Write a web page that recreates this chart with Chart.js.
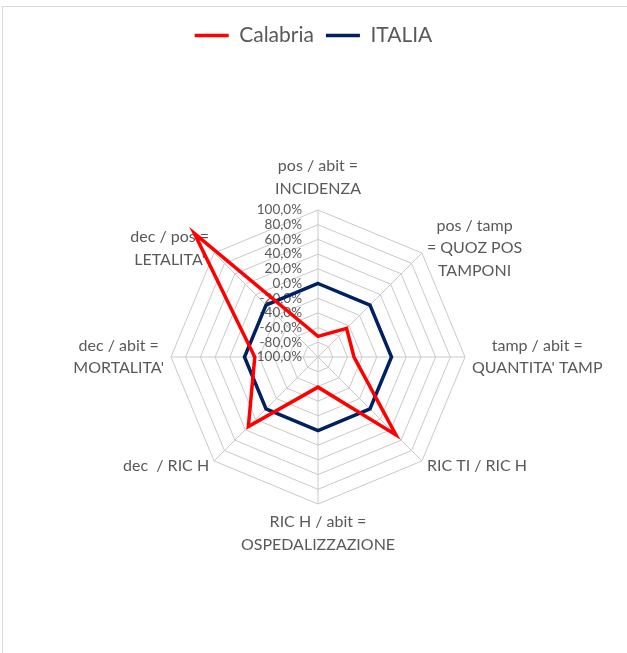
<!DOCTYPE html>
<html>
<head>
<meta charset="utf-8">
<script src="https://cdn.jsdelivr.net/npm/chart.js@4.4.1/dist/chart.umd.min.js"></script>
<style>
    body { margin: 0; background: #fff; overflow: hidden; }
    #wrap { position: relative; width: 627px; height: 653px; }
    #frame { position: absolute; left: 2px; top: 6px; width: 700px; height: 700px; border: 1px solid #d9d9d9; }
    #radar { position: absolute; left: 0; top: 0; }
</style>
</head>
<body>
<div id="wrap">
    <div id="frame"></div>
    <canvas id="radar" width="627" height="653"></canvas>
</div>
<script>
// Chart data
const categories = [
    ['pos / abit =', 'INCIDENZA'],
    ['pos / tamp', '= QUOZ POS', 'TAMPONI'],
    ['tamp / abit =', "QUANTITA' TAMP"],
    ['RIC TI / RIC H'],
    ['RIC H / abit =', 'OSPEDALIZZAZIONE'],
    ['dec  / RIC H'],
    ['dec / abit =', "MORTALITA'"],
    ['dec / pos =', "LETALITA'"]
];
const calabriaValues = [-72, -45, -51, 50, -59, 34, -14, 138];
const italiaValues = [0, 0, 0, 0, 0, 0, 0, 0];
const tickValues = [-100, -80, -60, -40, -20, 0, 20, 40, 60, 80, 100];

// Layout / style
const FONT = 'Lato, "Open Sans", sans-serif';
const TEXT_COLOR = '#595959';
const GRID_COLOR = '#c9c9c9';
const CENTER_X = 318;
const CENTER_Y = 357;
const RADIUS = 147;

function formatTick(v) {
    return v.toFixed(1).replace('.', ',') + '%';
}

// Draw tick labels and category labels under the data lines
const radarLabels = {
    id: 'radarLabels',
    beforeDatasetsDraw(chart) {
        const r = chart.scales.r;
        const ctx = chart.ctx;
        ctx.save();
        ctx.fillStyle = TEXT_COLOR;

        // tick labels, left of the vertical axis
        ctx.font = '13.5px ' + FONT;
        ctx.textAlign = 'right';
        ctx.textBaseline = 'middle';
        r.ticks.forEach(t => {
            const p = r.getPointPositionForValue(0, t.value);
            ctx.fillText(formatTick(t.value), p.x - 16, p.y);
        });

        // category labels
        ctx.font = '16px ' + FONT;
        ctx.textAlign = 'center';
        const lineH = 22.5;
        categories.forEach((lines, i) => {
            const pad = i === 0 ? 10 : 7;
            const p = r.getPointPosition(i, r.drawingArea + pad);
            const w = Math.max(...lines.map(l => ctx.measureText(l).width));
            const h = lines.length * lineH;
            const sx = Math.sin(p.angle + Math.PI / 2);
            const cy = Math.cos(p.angle + Math.PI / 2);
            let cx = p.x;
            if (sx > 0.1) cx = p.x + w / 2;
            else if (sx < -0.1) cx = p.x - w / 2;
            let top = p.y - h / 2;
            if (cy > 0.9) top = p.y - h;
            else if (cy < -0.9) top = p.y;
            lines.forEach((l, k) => {
                ctx.fillText(l, cx, top + lineH * (k + 0.5));
            });
        });
        ctx.restore();
    }
};

const ctx = document.getElementById('radar').getContext('2d');
const radarChart = new Chart(ctx, {
    type: 'radar',
    data: {
        labels: categories,
        datasets: [
            {
                label: 'Calabria',
                data: calabriaValues,
                borderColor: '#ff0000',
                backgroundColor: '#ff0000',
                borderWidth: 3.5,
                pointRadius: 0,
                fill: false,
                clip: false
            },
            {
                label: 'ITALIA',
                data: italiaValues,
                borderColor: '#002060',
                backgroundColor: '#002060',
                borderWidth: 3.5,
                pointRadius: 0,
                fill: false,
                clip: false
            }
        ]
    },
    options: {
        responsive: false,
        animation: false,
        layout: { padding: { top: 13 } },
        plugins: {
            legend: {
                position: 'top',
                labels: {
                    usePointStyle: true,
                    pointStyle: 'line',
                    pointStyleWidth: 34,
                    padding: 12,
                    color: TEXT_COLOR,
                    font: { family: FONT, size: 21 }
                }
            },
            tooltip: { enabled: false }
        },
        scales: {
            r: {
                min: -100,
                max: 100,
                afterBuildTicks: s => { s.ticks = tickValues.map(v => ({ value: v })); },
                afterFit: s => {
                    s.xCenter = CENTER_X;
                    s.yCenter = CENTER_Y;
                    s.drawingArea = RADIUS;
                },
                ticks: { display: false },
                pointLabels: { display: false },
                grid: { color: GRID_COLOR, lineWidth: 1 },
                angleLines: { color: GRID_COLOR, lineWidth: 1 }
            }
        }
    },
    plugins: [radarLabels]
});
</script>
</body>
</html>
